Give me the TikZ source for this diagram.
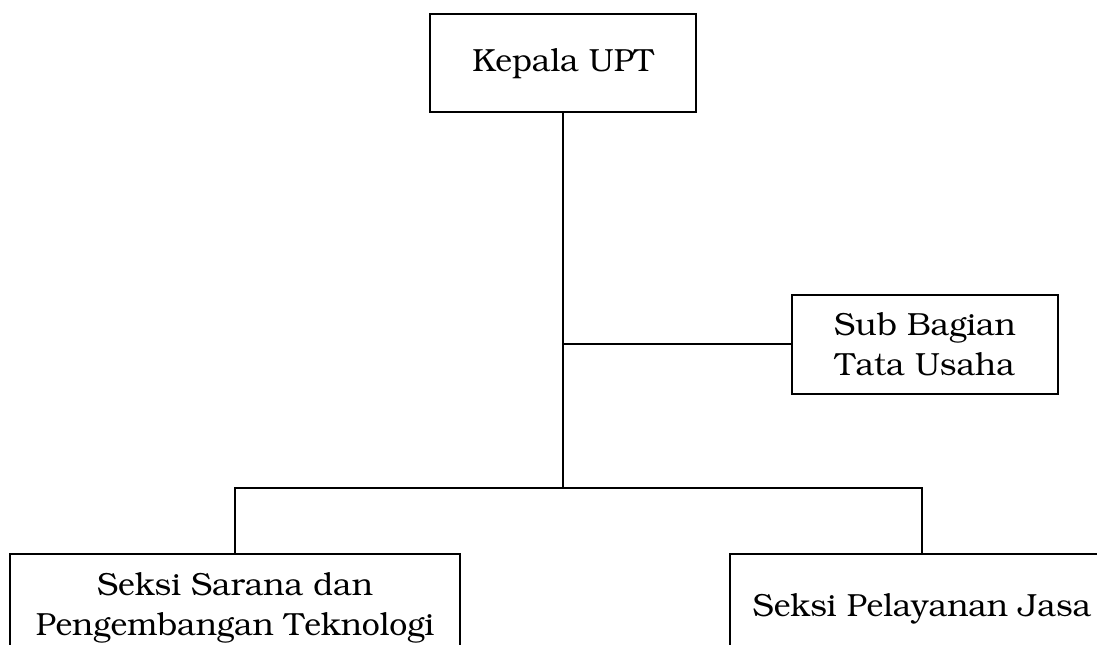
\documentclass[tikz,border=0pt]{standalone}
\usepackage[T1]{fontenc}
\usepackage{bookman}
\tikzset{unit/.style={draw,line width=1.5pt,inner sep=0pt,align=center,font=\fontsize{24}{30}\selectfont}}
\begin{document}
\begin{tikzpicture}[x=0.75pt,y=-0.75pt,line width=1.5pt]
\clip (0,0) rectangle (1097,645);
\node [unit,minimum width=199.5pt,minimum height=73.5pt] (kepala) at (563,63.5) {Kepala UPT};
\node [unit,minimum width=199.5pt,minimum height=74pt] (tu) at (925,344.5) {Sub Bagian\\Tata Usaha};
\node [unit,minimum width=337.5pt,minimum height=82pt,anchor=north] (sarana) at (235,553) {Seksi Sarana dan\\Pengembangan Teknologi};
\node [unit,minimum width=288pt,minimum height=82pt,anchor=north] (jasa) at (922,553) {Seksi Pelayanan Jasa};
\coordinate (bus) at (563,488);
\draw (kepala.south) -- (bus);
\draw (kepala.south |- tu.west) -- (tu.west);
\draw (sarana.north) -- (sarana.north |- bus) -- (jasa.north |- bus) -- (jasa.north);
\end{tikzpicture}
\end{document}
